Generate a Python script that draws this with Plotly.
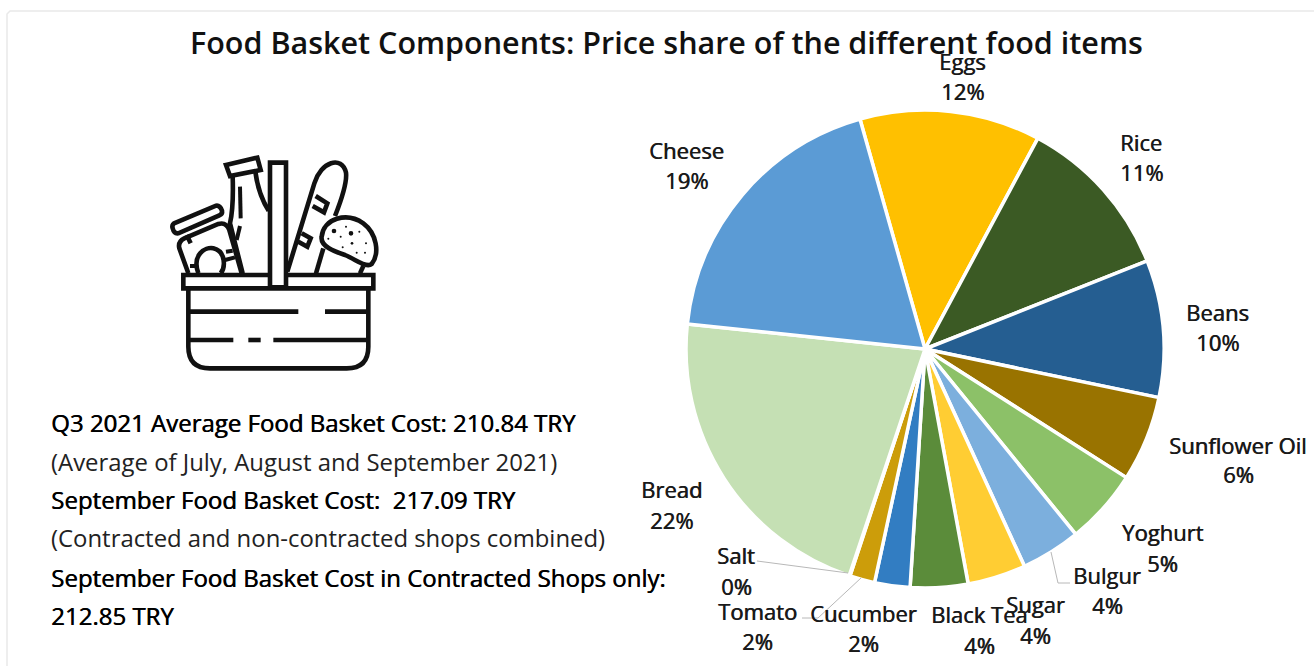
import plotly.graph_objects as go

W, H = 1314, 666

# ---- data -----------------------------------------------------------------
items = ["Eggs", "Rice", "Beans", "Sunflower Oil", "Yoghurt", "Bulgur", "Sugar",
         "Black Tea", "Cucumber", "Tomato", "Salt", "Bread", "Cheese"]
shares = [12.25, 11.2, 9.3, 5.8, 5.1, 4.05, 3.95, 3.9, 2.4, 1.7, 0.05, 21.6, 19.0]
shown_pct = [12, 11, 10, 6, 5, 4, 4, 4, 2, 2, 0, 22, 19]
title_text = "Food Basket Components: Price share of the different food items"
notes = ["Q3 2021 Average Food Basket Cost: 210.84 TRY",
         "(Average of July, August and September 2021)",
         "September Food Basket Cost:  217.09 TRY",
         "(Contracted and non-contracted shops combined)",
         "September Food Basket Cost in Contracted Shops only:",
         "212.85 TRY"]

# ---- styles and layout ----------------------------------------------------
colors = ["#FFC000", "#3B5A24", "#255E91", "#997300", "#8CC168", "#7CAFDD", "#FFCD33",
          "#5B8C3A", "#327DC2", "#CC9D0A", "#A5A5A5", "#C5E0B4", "#5B9BD5"]
FONT = "Open Sans"
label_xy = {"Eggs": (962, 61, 962, 91), "Rice": (1141, 142, 1141, 172),
            "Beans": (1217, 312, 1217, 342), "Sunflower Oil": (1238, 445, 1238, 474),
            "Yoghurt": (1162, 532, 1162, 563), "Bulgur": (1107, 575, 1107, 605),
            "Sugar": (1035, 604, 1035, 635), "Black Tea": (979, 614, 979, 645),
            "Cucumber": (863, 613, 863, 643), "Tomato": (757, 611, 757, 641),
            "Salt": (736, 555, 736, 586), "Bread": (671, 489, 671, 520),
            "Cheese": (686, 150, 686, 180)}
note_y = [423, 462, 500, 538, 578, 616]
note_bold = [True, False, True, False, True, True]
CX, CY, R = 925, 349, 239


def px(x):
    return x / W


def py(y):
    return 1 - y / H


def text(x, y, s, size, color="#1a1a1a", weight=400, anchor="center", shadow=None):
    font = dict(family=FONT, size=size, color=color, weight=weight)
    if shadow:
        font["shadow"] = shadow
    return dict(x=px(x), y=py(y), xref="paper", yref="paper", text=s, showarrow=False,
                xanchor=anchor, yanchor="middle", font=font)


annotations = [text(666, 42, title_text, 30.5, "#111111", 600)]
LBL = "0.6px 0 0 #1a1a1a"
for name, pct in zip(items, shown_pct):
    x1, y1, x2, y2 = label_xy[name]
    annotations.append(text(x1, y1, name, 22, shadow=LBL))
    annotations.append(text(x2, y2, f"{pct}%", 22, shadow=LBL))
for s, y, b in zip(notes, note_y, note_bold):
    if b:
        annotations.append(text(49, y - 1, s, 24, "#000000", 400, "left", "0.6px 0 0 #000000"))
    else:
        annotations.append(text(49, y - 1, s, 23.9, "#222222", 400, "left"))

shapes = []


def line_pts(pts, color="#b8b8b8", width=1):
    d = "M" + " L".join(f"{px(x):.5f},{py(y):.5f}" for x, y in pts)
    shapes.append(dict(type="path", xref="paper", yref="paper", path=d,
                       line=dict(color=color, width=width)))


# card edge
line_pts([(7, 666), (7, 14), (10, 11), (1314, 11)], "#e9e9e9", 1.5)
# leader lines
line_pts([(757, 561), (848, 573)])
line_pts([(802, 618), (818, 618), (861, 578)])
line_pts([(1051, 552), (1058, 583), (1070, 583)])


# ---- basket icon, drawn in 3x zoom coordinates ----------------------------
def ix(v):
    return px(150 + v / 3)


def iy(v):
    return py(140 + v / 3)


def icon(cmds, fill=None, width=4.6):
    parts = []
    for c in cmds:
        op, vals = c[0], c[1:]
        pts = [f"{ix(vals[i]):.5f},{iy(vals[i + 1]):.5f}" for i in range(0, len(vals), 2)]
        parts.append(op + " ".join(pts))
    d = " ".join(parts)
    s = dict(type="path", xref="paper", yref="paper", path=d,
             line=dict(color="#111111", width=width))
    if fill:
        s["fillcolor"] = fill
    shapes.append(s)


# jar
icon([("M", 115, 400), ("L", 88, 325), ("Q", 83, 305, 103, 295), ("L", 205, 252),
      ("Q", 228, 245, 238, 270), ("L", 275, 400)])
icon([("M", 72, 250), ("L", 198, 197), ("Q", 210, 195, 216, 212), ("Q", 218, 222, 208, 226),
      ("L", 85, 280), ("Q", 72, 282, 68, 265), ("Q", 65, 255, 72, 250), ("Z",)], "#ffffff")
icon([("M", 110, 285), ("L", 122, 310)])
icon([("M", 145, 400), ("C", 125, 345, 165, 320, 190, 325), ("C", 230, 335, 225, 385, 212, 400)])
icon([("M", 120, 378), ("L", 140, 378)], width=4)
icon([("M", 228, 335), ("L", 248, 332)], width=4)
icon([("M", 225, 360), ("L", 255, 352)], width=4)
# bottle
icon([("M", 248, 110), ("C", 250, 170, 248, 215, 240, 250), ("L", 278, 400)])
icon([("M", 316, 95), ("C", 322, 140, 335, 180, 356, 212)])
icon([("M", 228, 75), ("L", 322, 53), ("L", 332, 90), ("L", 240, 108), ("Z",)], "#ffffff")
icon([("M", 270, 140), ("L", 272, 235)], width=4)
icon([("M", 270, 258), ("L", 260, 300)], width=4)
# baguette
icon([("M", 412, 395), ("L", 493, 130), ("C", 513, 65, 575, 45, 588, 98),
      ("C", 592, 130, 570, 190, 555, 228)])
icon([("M", 497, 168), ("L", 532, 190), ("L", 522, 217), ("L", 488, 198)])
icon([("M", 455, 280), ("L", 482, 295), ("L", 472, 320), ("L", 445, 305)])
# round loaf
icon([("M", 498, 400), ("L", 520, 325)])
icon([("M", 640, 378), ("L", 630, 400)])
icon([("M", 515, 290), ("C", 520, 235, 590, 215, 640, 250), ("C", 680, 280, 690, 340, 665, 372),
      ("C", 650, 385, 620, 360, 585, 345), ("C", 555, 335, 510, 320, 515, 290), ("Z",)], "#ffffff")
for dx, dy, r in [(552, 273, 7), (603, 280, 7), (588, 260, 3), (628, 275, 3), (572, 290, 3),
                  (535, 296, 3), (606, 310, 4), (578, 322, 3), (648, 310, 3), (620, 338, 3),
                  (645, 338, 3)]:
    shapes.append(dict(type="circle", xref="paper", yref="paper",
                       x0=ix(dx - r), x1=ix(dx + r), y0=iy(dy - r), y1=iy(dy + r),
                       fillcolor="#111111", line=dict(width=0)))
# basket
icon([("M", 115, 445), ("L", 115, 620), ("Q", 115, 685, 180, 685), ("L", 590, 685),
      ("Q", 655, 685, 655, 620), ("L", 655, 445)])
icon([("M", 100, 405), ("L", 670, 405), ("L", 670, 445), ("L", 100, 445), ("Z",)], "#ffffff")
icon([("M", 360, 68), ("L", 408, 68), ("L", 408, 442), ("L", 360, 442), ("Z",)], "#ffffff")
for a, b, yy in [(118, 445, 515), (525, 650, 515), (118, 250, 600), (295, 332, 600), (370, 650, 600)]:
    icon([("M", a, yy), ("L", b, yy)])

fig = go.Figure(go.Pie(
    labels=items, values=shares, sort=False, direction="clockwise", rotation=-15.8,
    marker=dict(colors=colors, line=dict(color="#ffffff", width=3.5)),
    textinfo="none", hoverinfo="label+percent", showlegend=False,
    domain=dict(x=[px(CX - R), px(CX + R)], y=[py(CY + R), py(CY - R)]),
))
fig.update_layout(width=W, height=H, margin=dict(l=0, r=0, t=0, b=0),
                  paper_bgcolor="#ffffff", annotations=annotations, shapes=shapes,
                  font=dict(family=FONT))
fig.write_html("out.html", config=dict(displayModeBar=False),
               post_script="document.body.style.margin='0';document.body.style.overflow='hidden';")
